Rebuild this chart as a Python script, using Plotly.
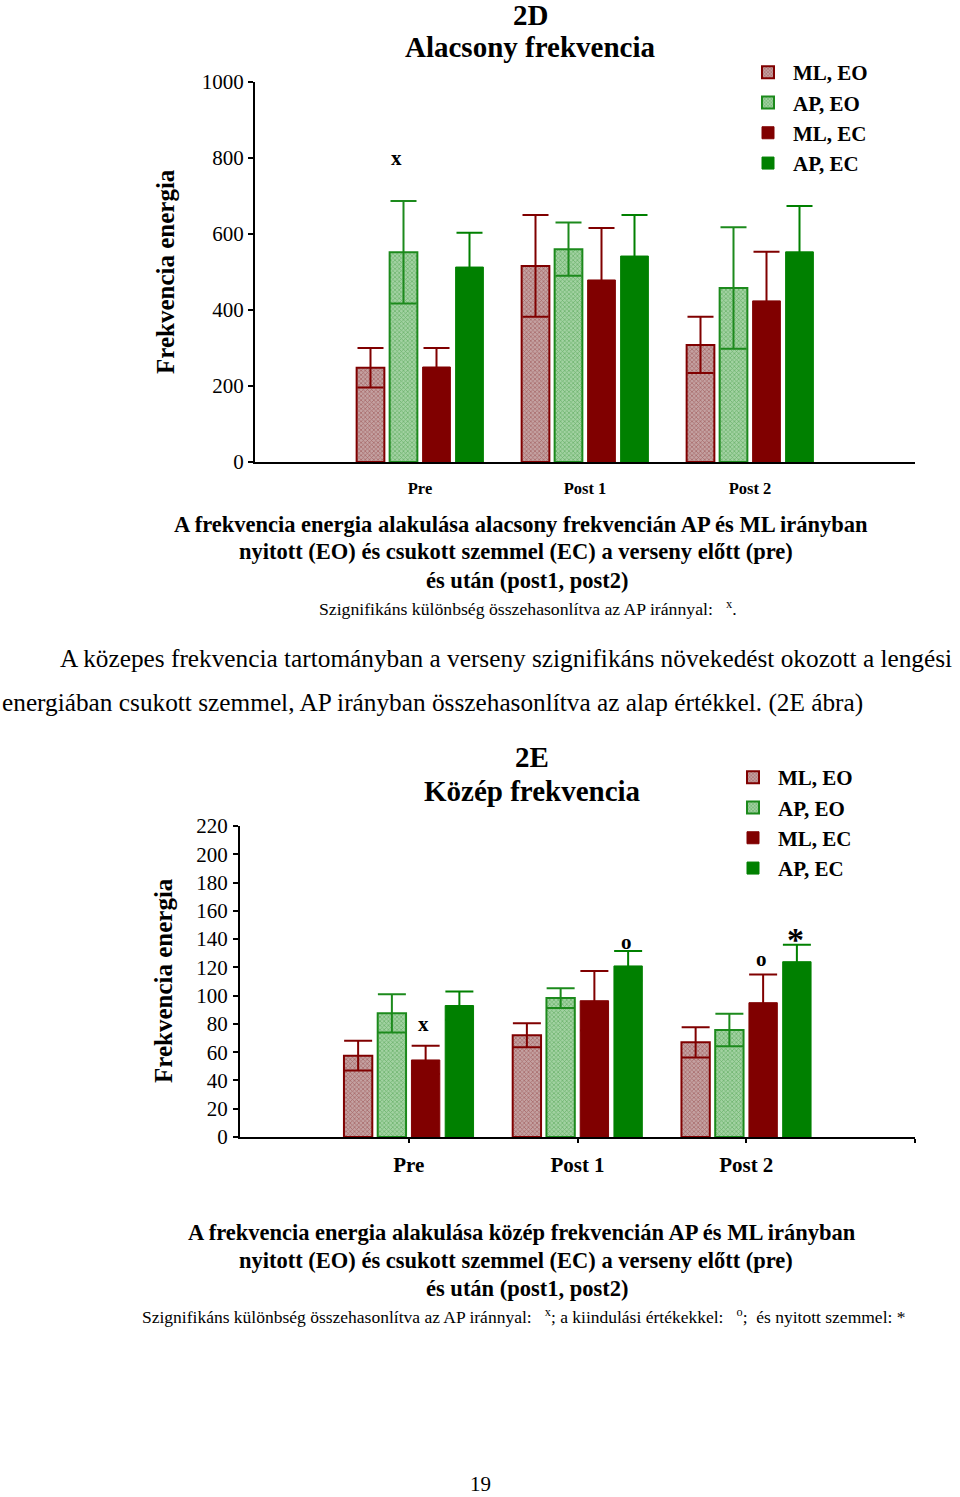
import plotly.graph_objects as go

# ---------------- data ----------------
categories = ["Pre", "Post 1", "Post 2"]
series_names = ["ML, EO", "AP, EO", "ML, EC", "AP, EC"]

# 2D – Alacsony frekvencia
low_values = {
    "ML, EO": [248, 516, 308],
    "AP, EO": [552, 560, 458],
    "ML, EC": [250, 479, 424],
    "AP, EC": [513, 542, 553],
}
low_errors = {
    "ML, EO": [52, 134, 74],
    "AP, EO": [135, 70, 160],
    "ML, EC": [50, 137, 129],
    "AP, EC": [90, 108, 121],
}
low_ticks = [0, 200, 400, 600, 800, 1000]

# 2E – Közép frekvencia
mid_values = {
    "ML, EO": [57.5, 72, 67],
    "AP, EO": [87.5, 98.3, 75.7],
    "ML, EC": [54.5, 96.4, 95],
    "AP, EC": [93, 121, 124],
}
mid_errors = {
    "ML, EO": [10.5, 8.5, 10.7],
    "AP, EO": [13.5, 7, 11.5],
    "ML, EC": [10, 21, 20],
    "AP, EC": [10, 10.5, 12],
}
mid_ticks = list(range(0, 221, 20))

# significance marks: (category index, series index, label, y value)
low_marks = [(0, 1, "x", 800)]
mid_marks = [(0, 2, "x", 80), (1, 3, "o", 138), (2, 2, "o", 126), (2, 3, "*", 140)]

# ---------------- styles ----------------
FONT = "Liberation Serif"
DARKRED = "#800000"
GREEN = "#008000"
styles = {
    "ML, EO": dict(color="#b08484", line=dict(color=DARKRED, width=2),
                   pattern=dict(shape="x", fgcolor="#842828", bgcolor="#c4a2a2", size=3, solidity=0.4)),
    "AP, EO": dict(color="#80b880", line=dict(color="#1c8a1c", width=2),
                   pattern=dict(shape="x", fgcolor="#2e8e2e", bgcolor="#a2d2a2", size=3, solidity=0.4)),
    "ML, EC": dict(color=DARKRED, line=dict(color=DARKRED, width=1)),
    "AP, EC": dict(color=GREEN, line=dict(color=GREEN, width=1)),
}
err_colors = {"ML, EO": DARKRED, "AP, EO": "#1c8a1c", "ML, EC": DARKRED, "AP, EC": GREEN}

xpos = list(range(len(categories)))
fig = go.Figure()

for name in series_names:
    fig.add_trace(go.Bar(
        name=name, x=xpos, y=low_values[name],
        error_y=dict(type="data", array=low_errors[name], color=err_colors[name], thickness=2, width=13),
        marker=styles[name], xaxis="x", yaxis="y", legend="legend", offsetgroup=name,
    ))
for name in series_names:
    fig.add_trace(go.Bar(
        name=name, x=xpos, y=mid_values[name],
        error_y=dict(type="data", array=mid_errors[name], color=err_colors[name], thickness=2, width=14),
        marker=styles[name], xaxis="x2", yaxis="y2", legend="legend2", offsetgroup=name,
    ))

W, H = 960, 1497
def px(x):
    return x / W
def py(y):
    return 1 - y / H

n = len(series_names)
pitch = 0.8 / n
def bar_x(ci, si):
    return ci - 0.4 + pitch * (si + 0.5)

ann = []
for ci, si, lab, yv in low_marks:
    ann.append(dict(x=bar_x(ci, si) - 0.04, y=yv, xref="x", yref="y", text=f"<b>{lab}</b>",
                    showarrow=False, font=dict(family=FONT, size=21, color="black")))
for ci, si, lab, yv in mid_marks:
    size = 34 if lab == "*" else 21
    ann.append(dict(x=bar_x(ci, si) - 0.01, y=yv, xref="x2", yref="y2", text=f"<b>{lab}</b>",
                    showarrow=False, font=dict(family=FONT, size=size, color="black")))

def text(x, y, t, size, bold=False, anchor="center", angle=0):
    ann.append(dict(x=px(x), y=py(y), xref="paper", yref="paper", text=(f"<b>{t}</b>" if bold else t),
                    showarrow=False, xanchor=anchor, yanchor="middle", textangle=angle,
                    font=dict(family=FONT, size=size, color="black")))

# chart 1 titles
text(530, 15, "2D", 29, True)
text(530, 47, "Alacsony frekvencia", 29, True)
text(165, 272, "Frekvencia energia", 25, True, angle=-90)
# captions 1
text(521, 524, "A frekvencia energia alakulása alacsony frekvencián AP és ML irányban", 22.5, True)
text(516, 552, "nyitott (EO) és csukott szemmel (EC) a verseny előtt (pre)", 22.5, True)
text(527, 580, "és után (post1, post2)", 22.5, True)
text(528, 608, "Szignifikáns különbség összehasonlítva az AP iránnyal:   <sup>x</sup>.", 17.7)
# paragraph
text(58, 658, "A közepes frekvencia tartományban a verseny szignifikáns növekedést okozott a lengési", 25.3, anchor="left")
text(0, 702, "energiában csukott szemmel, AP irányban összehasonlítva az alap értékkel. (2E ábra)", 25.3, anchor="left")
# chart 2 titles
text(532, 757, "2E", 29, True)
text(532, 791, "Közép frekvencia", 29, True)
text(163, 981, "Frekvencia energia", 25, True, angle=-90)
# captions 2
text(522, 1232, "A frekvencia energia alakulása közép frekvencián AP és ML irányban", 22.5, True)
text(516, 1260, "nyitott (EO) és csukott szemmel (EC) a verseny előtt (pre)", 22.5, True)
text(527, 1288, "és után (post1, post2)", 22.5, True)
text(523, 1316, "Szignifikáns különbség összehasonlítva az AP iránnyal:   <sup>x</sup>; a kiindulási értékekkel:   <sup>o</sup>;  és nyitott szemmel: *", 17.5)
text(480, 1484, "19", 21)

axis_common = dict(showgrid=False, zeroline=False, showline=True, linecolor="black", linewidth=2,
                   automargin=False)
legend_font = dict(family=FONT, size=21, color="black", weight="bold")

fig.update_layout(
    width=W, height=H, margin=dict(l=0, r=0, t=0, b=0, pad=0, autoexpand=False),
    paper_bgcolor="white", plot_bgcolor="white",
    barmode="group", bargap=0.2, bargroupgap=0.16,
    font=dict(family=FONT, color="black"),
    xaxis=dict(domain=[px(255), px(915)], anchor="y", range=[-1, 3], tickvals=xpos, ticktext=categories,
               ticks="", ticklabelstandoff=10,
               tickfont=dict(family=FONT, size=16.5, color="black", weight="bold"),
               **axis_common),
    yaxis=dict(domain=[py(462), py(82)], anchor="x", range=[0, 1000], tickvals=low_ticks,
               ticks="outside", ticklen=5, tickwidth=2, tickcolor="black",
               ticklabelstandoff=0, tickfont=dict(family=FONT, size=21, color="black"),
               **axis_common),
    xaxis2=dict(domain=[px(240), px(915)], anchor="y2", range=[-1, 3], tickvals=xpos + [3],
                ticktext=categories + [" "], ticks="outside", ticklen=4, tickwidth=2, tickcolor="black",
                ticklabelstandoff=4, tickfont=dict(family=FONT, size=21, color="black", weight="bold"),
                **axis_common),
    yaxis2=dict(domain=[py(1137), py(826)], anchor="x2", range=[0, 220], tickvals=mid_ticks,
                ticks="outside", ticklen=5, tickwidth=2, tickcolor="black",
                ticklabelstandoff=1, tickfont=dict(family=FONT, size=21, color="black"),
                **axis_common),
    legend=dict(x=px(743), y=py(52), xanchor="left", yanchor="top", bgcolor="rgba(0,0,0,0)",
                font=legend_font, itemwidth=40, tracegroupgap=0, traceorder="normal"),
    legend2=dict(x=px(728), y=py(757), xanchor="left", yanchor="top", bgcolor="rgba(0,0,0,0)",
                 font=legend_font, itemwidth=40, tracegroupgap=0, traceorder="normal"),
    annotations=ann,
    showlegend=True,
)

fig.write_html("out.html", config={"displayModeBar": False},
               post_script="document.body.style.margin='0px';")
